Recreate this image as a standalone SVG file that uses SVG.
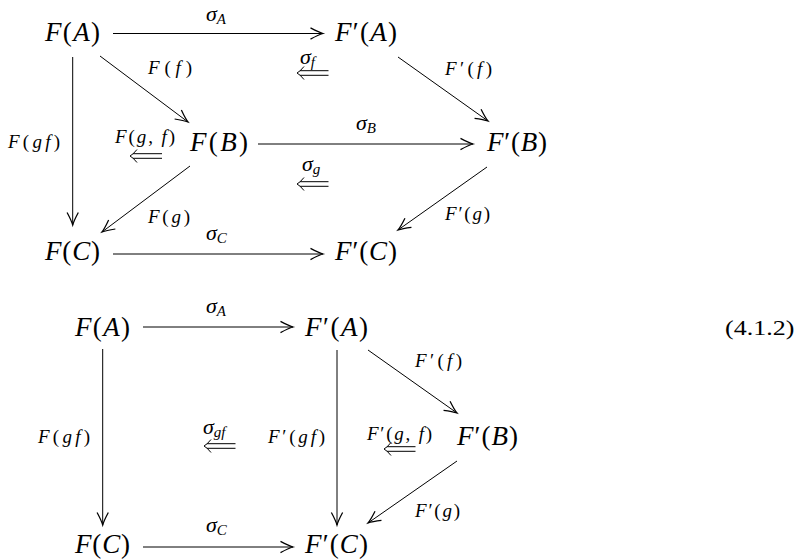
<svg xmlns="http://www.w3.org/2000/svg" width="806" height="559" viewBox="0 0 806 559" font-family="'Liberation Serif', 'DejaVu Serif', serif">
<style>
text{font-family:'Liberation Serif','DejaVu Serif',serif;fill:#000}
.n{font-size:27px}
.l{font-size:19px}
.g{font-size:22px}
.s{font-size:15px}
.i{font-style:italic}
.c{stroke:#000;stroke-width:1;fill:none}
.d{stroke:#000;stroke-width:1;fill:none}
</style>
<defs>
<marker id="ah" markerUnits="userSpaceOnUse" markerWidth="20" markerHeight="20" viewBox="-12 -8 14 16" refX="0" refY="0" orient="auto">
<path d="M-10,-4.5 Q-3.5,-1 0,0 Q-3.5,1 -10,4.5" stroke="#000" stroke-width="1" fill="none"/>
</marker>
</defs>
<rect width="806" height="559" fill="#fff"/>

<g id="connectors">
<path class="c" d="M113,33.5 H323" marker-end="url(#ah)"/>
<path class="c" d="M100,56 L188,122" marker-end="url(#ah)"/>
<path class="c" d="M72.7,57 V225" marker-end="url(#ah)"/>
<path class="c" d="M190,166 L102,232" marker-end="url(#ah)"/>
<path class="c" d="M258,144 H473" marker-end="url(#ah)"/>
<path class="c" d="M398,57 L488,121" marker-end="url(#ah)"/>
<path class="c" d="M487,167 L398,230" marker-end="url(#ah)"/>
<path class="c" d="M113,254 H323" marker-end="url(#ah)"/>
<path class="c" d="M143,327 H293" marker-end="url(#ah)"/>
<path class="c" d="M102.7,349 V525" marker-end="url(#ah)"/>
<path class="c" d="M337,350 V525" marker-end="url(#ah)"/>
<path class="c" d="M368,350 L457,413" marker-end="url(#ah)"/>
<path class="c" d="M457,461 L368,523" marker-end="url(#ah)"/>
<path class="c" d="M143,547 H293" marker-end="url(#ah)"/>
<g id="dbl-sf"><path class="d" d="M300,70.7 H328.5 M300,75.3 H328.5 M304,66.5 Q300,71.5 297,73 Q300,74.5 304,79.5"/></g>
<g id="dbl-Fgf"><path class="d" d="M133,153.7 H162 M133,158.3 H162 M137,149.5 Q133,154.5 130,156 Q133,157.5 137,162.5"/></g>
<g id="dbl-sg"><path class="d" d="M300,181.7 H328.5 M300,186.3 H328.5 M304,177.5 Q300,182.5 297,184 Q300,185.5 304,190.5"/></g>
<g id="dbl-sgf"><path class="d" d="M207,443.7 H235.5 M207,448.3 H235.5 M211,439.5 Q207,444.5 204,446 Q207,447.5 211,452.5"/></g>
<g id="dbl-Fpgf"><path class="d" d="M387,446.7 H415.5 M387,451.3 H415.5 M391,442.5 Q387,447.5 384,449 Q387,450.5 391,455.5"/></g>
</g>

<g id="tFA"><text class="n" x="45" y="41" textLength="55" lengthAdjust="spacing"><tspan class="i">F</tspan>(<tspan class="i">A</tspan>)</text></g>
<g id="tFpA"><text class="n" x="335" y="41" textLength="62" lengthAdjust="spacing"><tspan class="i">F</tspan>′(<tspan class="i">A</tspan>)</text></g>
<g id="tFB"><text class="n" x="190" y="151" textLength="58" lengthAdjust="spacing"><tspan class="i">F</tspan>(<tspan class="i">B</tspan>)</text></g>
<g id="tFpB"><text class="n" x="487" y="151" textLength="60" lengthAdjust="spacing"><tspan class="i">F</tspan>′(<tspan class="i">B</tspan>)</text></g>
<g id="tFC"><text class="n" x="45" y="260" textLength="55" lengthAdjust="spacing"><tspan class="i">F</tspan>(<tspan class="i">C</tspan>)</text></g>
<g id="tFpC"><text class="n" x="335" y="260" textLength="62" lengthAdjust="spacing"><tspan class="i">F</tspan>′(<tspan class="i">C</tspan>)</text></g>

<g id="tlabels">
<text class="g" x="206" y="21"><tspan class="i">σ</tspan><tspan class="s i" dy="3">A</tspan></text>
<text class="l" x="148" y="74" textLength="44" lengthAdjust="spacing"><tspan class="i">F</tspan>(<tspan class="i">f</tspan>)</text>
<text class="l" x="445" y="75" textLength="47" lengthAdjust="spacing"><tspan class="i">F</tspan>′(<tspan class="i">f</tspan>)</text>
<text class="g" x="300" y="64"><tspan class="i">σ</tspan><tspan class="s i" dy="3">f</tspan></text>
<text class="l" x="8" y="148" textLength="52" lengthAdjust="spacing"><tspan class="i">F</tspan>(<tspan class="i">gf</tspan>)</text>
<text class="l" x="115" y="143" textLength="60" lengthAdjust="spacing"><tspan class="i">F</tspan>(<tspan class="i">g</tspan>, <tspan class="i">f</tspan>)</text>
<text class="g" x="356" y="130"><tspan class="i">σ</tspan><tspan class="s i" dy="3">B</tspan></text>
<text class="g" x="302" y="171"><tspan class="i">σ</tspan><tspan class="s i" dy="3">g</tspan></text>
<text class="l" x="148" y="223" textLength="42" lengthAdjust="spacing"><tspan class="i">F</tspan>(<tspan class="i">g</tspan>)</text>
<text class="l" x="445" y="220" textLength="45" lengthAdjust="spacing"><tspan class="i">F</tspan>′(<tspan class="i">g</tspan>)</text>
<text class="g" x="206" y="240"><tspan class="i">σ</tspan><tspan class="s i" dy="3">C</tspan></text>
</g>

<g id="bFA"><text class="n" x="75" y="336" textLength="55" lengthAdjust="spacing"><tspan class="i">F</tspan>(<tspan class="i">A</tspan>)</text></g>
<g id="bFpA"><text class="n" x="305" y="336" textLength="63" lengthAdjust="spacing"><tspan class="i">F</tspan>′(<tspan class="i">A</tspan>)</text></g>
<g id="bFpB"><text class="n" x="457" y="445" textLength="61" lengthAdjust="spacing"><tspan class="i">F</tspan>′(<tspan class="i">B</tspan>)</text></g>
<g id="bFC"><text class="n" x="75" y="553" textLength="55" lengthAdjust="spacing"><tspan class="i">F</tspan>(<tspan class="i">C</tspan>)</text></g>
<g id="bFpC"><text class="n" x="305" y="553" textLength="63" lengthAdjust="spacing"><tspan class="i">F</tspan>′(<tspan class="i">C</tspan>)</text></g>

<g id="blabels">
<text class="g" x="206" y="313"><tspan class="i">σ</tspan><tspan class="s i" dy="3">A</tspan></text>
<text class="l" x="415" y="367" textLength="47" lengthAdjust="spacing"><tspan class="i">F</tspan>′(<tspan class="i">f</tspan>)</text>
<text class="l" x="38" y="443" textLength="52" lengthAdjust="spacing"><tspan class="i">F</tspan>(<tspan class="i">gf</tspan>)</text>
<text class="g" x="203" y="434"><tspan class="i">σ</tspan><tspan class="s i" dy="3">gf</tspan></text>
<text class="l" x="268" y="443" textLength="57" lengthAdjust="spacing"><tspan class="i">F</tspan>′(<tspan class="i">gf</tspan>)</text>
<text class="l" x="367" y="440" textLength="65" lengthAdjust="spacing"><tspan class="i">F</tspan>′(<tspan class="i">g</tspan>, <tspan class="i">f</tspan>)</text>
<text class="l" x="415" y="517" textLength="45" lengthAdjust="spacing"><tspan class="i">F</tspan>′(<tspan class="i">g</tspan>)</text>
<text class="g" x="206" y="532"><tspan class="i">σ</tspan><tspan class="s i" dy="3">C</tspan></text>
</g>

<g id="eqnum"><text transform="translate(725,335) scale(1.3,1)" x="0" y="0" style="font-size:20px">(4.1.2)</text></g>
</svg>
